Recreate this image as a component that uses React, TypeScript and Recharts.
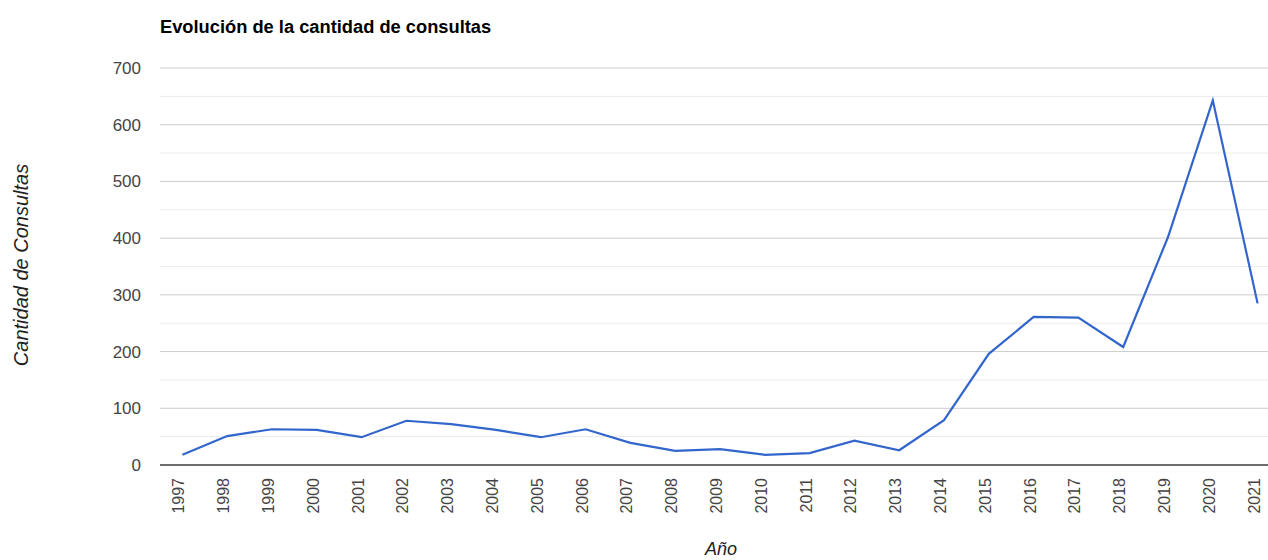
import React from "react";
import {
  LineChart,
  Line,
  XAxis,
  YAxis,
  CartesianGrid,
} from "recharts";

const years: string[] = [
  "1997", "1998", "1999", "2000", "2001", "2002", "2003", "2004", "2005",
  "2006", "2007", "2008", "2009", "2010", "2011", "2012", "2013", "2014",
  "2015", "2016", "2017", "2018", "2019", "2020", "2021",
];

const consultas: number[] = [
  18, 51, 63, 62, 49, 78, 72, 62, 49, 63, 39, 25, 28, 18, 21, 43, 26, 79,
  196, 261, 260, 208, 402, 643, 285,
];

const yTicks: number[] = [0, 100, 200, 300, 400, 500, 600, 700];
const yMinorTicks: number[] = [50, 150, 250, 350, 450, 550, 650];

const title = "Evolución de la cantidad de consultas";
const xTitle = "Año";
const yTitle = "Cantidad de Consultas";

const data = years.map((y, i) => ({ year: y, value: consultas[i] }));

const FONT = "Arial, 'Liberation Sans', sans-serif";

const XTick = (props: any) => {
  const { x, y, payload } = props;
  const tx = x + 2;
  const ty = y + 13;
  return (
    <text
      x={tx}
      y={ty}
      transform={`rotate(-90, ${tx}, ${ty})`}
      textAnchor="end"
      fontSize={16}
      fontFamily={FONT}
      fill="#444"
    >
      {payload.value}
    </text>
  );
};

export default function App() {
  return (
    <div style={{ position: "absolute", left: 0, top: 0, width: 1268, height: 560, background: "#fff" }}>
      <LineChart
        width={1268}
        height={560}
        data={data}
        margin={{ top: 68, right: 0, bottom: 0, left: 0 }}
      >
        <CartesianGrid
          vertical={false}
          horizontalValues={yMinorTicks}
          stroke="#ebebeb"
          strokeWidth={1}
        />
        <CartesianGrid vertical={false} stroke="#cccccc" strokeWidth={1} />
        <XAxis
          dataKey="year"
          height={95}
          padding={{ left: 22.4, right: 10.4 }}
          tickLine={false}
          tickSize={0}
          tickMargin={0}
          interval={0}
          axisLine={{ stroke: "#444", strokeWidth: 1.5 }}
          tick={<XTick />}
        />
        <YAxis
          width={160}
          domain={[0, 700]}
          ticks={yTicks}
          axisLine={false}
          tickLine={false}
          tickSize={0}
          tickMargin={19}
          tick={{ fontSize: 17, fontFamily: FONT, fill: "#444" }}
        />
        <Line
          type="linear"
          dataKey="value"
          stroke="#3366cc"
          strokeWidth={2.2}
          dot={false}
          activeDot={false}
          isAnimationActive={false}
        />
        <text x={160} y={33} fontSize={18.3} fontWeight="bold" fontFamily={FONT} fill="#000">
          {title}
        </text>
        <text
          x={721}
          y={555}
          textAnchor="middle"
          fontSize={18}
          fontStyle="italic"
          fontFamily={FONT}
          fill="#222"
        >
          {xTitle}
        </text>
        <text
          x={28}
          y={265}
          transform="rotate(-90, 28, 265)"
          textAnchor="middle"
          fontSize={20}
          fontStyle="italic"
          fontFamily={FONT}
          fill="#222"
        >
          {yTitle}
        </text>
      </LineChart>
    </div>
  );
}
